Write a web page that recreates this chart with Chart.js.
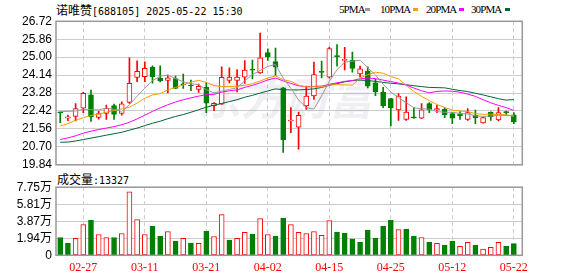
<!DOCTYPE html>
<html>
<head>
<meta charset="utf-8">
<script src="https://cdn.jsdelivr.net/npm/chart.js@4.4.1/dist/chart.umd.min.js"></script>
<style>
  body { margin: 0; background: #fff; width: 578px; height: 276px; overflow: hidden; position: relative; }
  canvas { position: absolute; left: 0; }
  #k { top: 0; }
  #v { top: 176px; }
  .t { position: absolute; white-space: nowrap; color: #000; line-height: 16px; }
  .cjk { font: 12px "Noto Sans CJK SC"; }
  .mono { font: 10px "DejaVu Sans Mono"; }
  .lg { position: absolute; top: 2px; font: 11px "Liberation Serif"; letter-spacing: -0.9px; line-height: 14px; color: #000; }
  .sw { position: absolute; top: 8px; width: 5px; height: 3px; }
</style>
</head>
<body>
<div class="t" style="left:56px;top:1px"><span class="cjk">诺唯赞</span><span class="mono">[688105] 2025-05-22 15:30</span></div>
<div class="lg" style="left:339px">5PMA</div><div class="sw" style="left:365px;background:#999"></div>
<div class="lg" style="left:380px">10PMA</div><div class="sw" style="left:413px;background:#f0a000"></div>
<div class="lg" style="left:426px">20PMA</div><div class="sw" style="left:459px;background:#ff00ff"></div>
<div class="lg" style="left:471px">30PMA</div><div class="sw" style="left:505px;background:#006633"></div>
<div class="t" style="left:57px;top:170px"><span class="cjk">成交量</span><span class="mono">:13327</span></div>
<canvas id="k" width="578" height="176"></canvas>
<canvas id="v" width="578" height="100"></canvas>
<script>
const dates = ['02-24','02-25','02-26','02-27','02-28','03-03','03-04','03-05','03-06','03-07',
  '03-10','03-11','03-12','03-13','03-14','03-17','03-18','03-19','03-20','03-21',
  '03-24','03-25','03-26','03-27','03-28','03-31','04-01','04-02','04-03','04-07',
  '04-08','04-09','04-10','04-11','04-14','04-15','04-16','04-17','04-18','04-21',
  '04-22','04-23','04-24','04-25','04-28','04-29','04-30','05-06','05-07','05-08',
  '05-09','05-12','05-13','05-14','05-15','05-16','05-19','05-20','05-21','05-22'];

const open  = [22.37,22.07,22.16,22.55,23.20,22.11,22.30,22.68,22.30,22.83,
  24.03,24.06,24.53,24.00,23.89,23.97,23.72,23.66,23.45,23.55,
  22.68,22.75,23.88,23.88,24.04,24.42,24.25,25.22,24.79,23.53,
  21.94,21.65,22.66,23.14,24.30,24.04,25.06,24.84,24.85,24.20,
  24.33,23.77,23.31,23.01,22.47,22.02,22.12,22.07,22.77,22.47,
  22.50,22.29,22.27,22.02,22.21,21.85,22.37,21.99,22.37,22.23];
const high  = [22.38,22.22,22.77,23.31,23.42,22.41,22.70,22.75,22.86,24.97,
  24.82,24.78,24.58,24.58,24.14,24.09,24.19,23.90,23.71,23.79,
  22.82,24.54,24.49,24.41,24.84,24.86,26.16,25.40,25.44,23.55,
  22.58,22.37,23.61,24.76,24.81,25.48,25.60,25.47,25.24,24.57,
  24.54,23.94,23.55,23.03,23.25,23.10,22.60,22.77,22.82,22.69,
  22.58,22.34,22.39,22.54,22.46,22.13,22.38,22.58,22.42,22.34];
const low   = [21.86,21.95,21.94,22.34,21.92,22.03,22.01,22.01,22.22,22.78,
  23.82,23.82,23.75,23.81,23.29,23.49,23.50,23.39,23.31,22.34,
  22.43,22.73,23.77,23.34,23.74,23.96,24.22,24.84,24.12,20.43,
  21.38,20.59,22.50,22.98,24.01,24.01,24.57,24.39,24.28,24.04,
  23.52,23.16,22.58,21.70,21.97,21.97,22.06,22.05,22.34,22.34,
  22.10,21.81,22.02,21.97,21.81,21.84,21.97,21.94,22.23,21.81];
const close = [22.33,22.14,22.53,23.27,22.13,22.30,22.55,22.26,22.76,23.75,
  24.32,24.46,24.06,23.86,24.01,23.50,23.67,23.62,23.60,22.79,
  22.79,24.03,24.04,24.04,24.38,24.38,24.97,25.01,24.52,21.05,
  21.98,22.21,23.14,24.17,24.27,25.41,25.03,24.90,24.46,24.44,
  23.61,23.34,22.66,22.58,23.13,22.37,22.09,22.48,22.47,22.54,
  22.23,22.07,22.20,22.34,22.10,22.10,22.15,22.34,22.34,21.90];

const ma5  = [22.40,22.40,22.42,22.50,22.48,22.47,22.56,22.50,22.40,22.72,
  23.13,23.51,23.87,24.09,24.14,23.98,23.82,23.73,23.68,23.44,
  23.29,23.37,23.45,23.54,23.86,24.17,24.36,24.56,24.65,23.99,
  23.51,22.95,22.58,22.51,23.15,23.84,24.40,24.76,24.81,24.85,
  24.49,24.15,23.70,23.33,23.06,22.82,22.57,22.53,22.51,22.39,
  22.36,22.36,22.30,22.28,22.19,22.16,22.18,22.21,22.21,22.17];
const ma10 = [21.70,21.81,21.98,22.10,22.20,22.27,22.36,22.44,22.52,22.60,
  22.80,23.03,23.19,23.25,23.43,23.55,23.67,23.80,23.89,23.79,
  23.64,23.59,23.59,23.61,23.65,23.73,23.86,24.00,24.10,23.92,
  23.84,23.66,23.57,23.58,23.57,23.67,23.68,23.67,23.66,24.00,
  24.16,24.28,24.23,24.07,23.96,23.65,23.36,23.12,22.92,22.73,
  22.59,22.46,22.42,22.39,22.29,22.26,22.27,22.25,22.24,22.18];
const ma20 = [21.05,21.13,21.23,21.36,21.45,21.53,21.60,21.67,21.76,21.88,
  22.04,22.22,22.40,22.57,22.72,22.85,22.96,23.05,23.13,23.20,
  23.22,23.32,23.39,23.43,23.55,23.65,23.77,23.91,24.00,23.86,
  23.74,23.63,23.58,23.60,23.61,23.70,23.77,23.84,23.88,23.96,
  24.00,23.97,23.90,23.83,23.76,23.66,23.52,23.39,23.29,23.36,
  23.38,23.37,23.32,23.23,23.12,22.96,22.81,22.69,22.58,22.45];
const ma30 = [20.92,20.93,20.98,21.05,21.12,21.19,21.26,21.33,21.40,21.50,
  21.60,21.72,21.83,21.93,22.05,22.16,22.25,22.36,22.48,22.60,
  22.70,22.78,22.87,22.96,23.08,23.17,23.28,23.38,23.48,23.44,
  23.43,23.43,23.45,23.48,23.55,23.65,23.73,23.82,23.88,23.90,
  23.88,23.84,23.79,23.75,23.72,23.68,23.63,23.59,23.55,23.54,
  23.53,23.46,23.40,23.35,23.27,23.19,23.10,23.01,22.94,22.97];

const volume = [20300,13900,19200,35000,39900,23700,20300,20300,24800,72200,
  40600,23700,33100,21800,27100,16200,19200,13900,13500,27500,
  21400,46300,17300,19200,26000,24100,41800,23700,21800,42100,
  35000,26000,24800,27100,22600,39500,26300,25200,18400,15000,
  28600,19600,33100,39900,29300,29700,21800,20300,15000,13500,
  11700,16200,10200,14700,11700,7100,9000,14700,10500,13327];
// 1 = close above previous close (red), 0 = below (green)
const volUp = [0,0,1,1,0,1,1,0,1,1, 1,1,0,0,1,0,1,0,1,0,
  1,1,0,1,1,0,1,1,0,0, 1,1,1,1,1,1,0,0,0,0,
  0,0,0,0,1,0,0,1,0,1, 0,0,1,1,0,1,1,1,0,0];

const dateTickIdx = [3, 11, 19, 27, 35, 43, 51, 59];
const priceTicks = [19.84, 20.70, 21.56, 22.42, 23.28, 24.14, 25.00, 25.86, 26.72];
const volTicks = [0, 19375, 38750, 58125, 77500];
const volTickLabels = ['0', '1.94万', '3.87万', '5.81万', '7.75万'];

const RED = '#ff0000', GREEN = '#008000';
const AXIS_FONT = { family: '"Liberation Sans", "Noto Sans CJK SC"', size: 12 };

const frame = {
  id: 'frame',
  afterDraw(chart) {
    const { ctx, chartArea: a } = chart;
    ctx.save();
    ctx.strokeStyle = '#999';
    ctx.lineWidth = 1.5;
    ctx.strokeRect(a.left, a.top, a.right - a.left, a.bottom - a.top);
    ctx.restore();
  }
};

const watermark = {
  id: 'watermark',
  beforeDatasetsDraw(chart) {
    const { ctx } = chart;
    ctx.save();
    ctx.font = 'bold italic 44px "Noto Sans CJK SC"';
    ctx.fillStyle = 'rgba(150,150,175,0.14)';
    ctx.textAlign = 'center';
    ctx.textBaseline = 'middle';
    ctx.fillText('东方财富', 285, 98);
    ctx.restore();
  }
};

function xScale(showLabels) {
  return {
    type: 'linear', min: -0.55, max: 60.1, offset: false, bounds: 'data',
    grid: { color: '#ccc', drawTicks: false, offset: false },
    border: { display: false, dash: [4, 3] },
    ticks: {
      display: showLabels, autoSkip: false, maxRotation: 0, padding: 5,
      color: RED, font: { family: '"Liberation Serif"', size: 12 },
      callback: v => dates[v]
    },
    afterBuildTicks: s => { s.ticks = dateTickIdx.map(v => ({ value: v })); },
    afterFit: s => { s.height = showLabels ? 20.7 : 0; }
  };
}

const pts = arr => arr.map((v, i) => ({ x: i, y: v }));
const maLine = (label, arr, color) => ({
  type: 'line', label, data: pts(arr), borderColor: color, borderWidth: 1,
  pointRadius: 0, tension: 0, order: 0
});
const candleUp = close.map((c, i) => c >= open[i]);

new Chart(document.getElementById('k'), {
  type: 'bar',
  data: {
    datasets: [
      maLine('5PMA', ma5, '#999999'),
      maLine('10PMA', ma10, '#f0a000'),
      maLine('20PMA', ma20, '#ff00ff'),
      maLine('30PMA', ma30, '#006633'),
      {
        label: 'body', data: open.map((o, i) => ({ x: i, y: [o, close[i]] })),
        backgroundColor: candleUp.map(u => u ? '#fff' : GREEN),
        borderColor: candleUp.map(u => u ? RED : GREEN),
        borderWidth: 1, borderSkipped: false, barThickness: 5, minBarLength: 1,
        grouped: false, order: 1
      },
      {
        label: 'wick', data: low.map((l, i) => ({ x: i, y: [l, high[i]] })),
        backgroundColor: candleUp.map(u => u ? RED : GREEN),
        barThickness: 1, grouped: false, order: 2
      }
    ]
  },
  options: {
    responsive: false, animation: false,
    layout: { padding: { top: 21.3, right: 55.7, bottom: 11, left: 0 } },
    plugins: { legend: { display: false }, tooltip: { enabled: false } },
    scales: {
      x: xScale(false),
      y: {
        min: 19.84, max: 26.72,
        grid: { color: '#ccc', drawTicks: false },
        border: { display: false },
        ticks: { autoSkip: false, padding: 4, color: '#000', font: AXIS_FONT, callback: v => v.toFixed(2) },
        afterBuildTicks: s => { s.ticks = priceTicks.map(v => ({ value: v })); },
        afterFit: s => { s.width = 56; }
      }
    }
  },
  plugins: [watermark, frame]
});

new Chart(document.getElementById('v'), {
  type: 'bar',
  data: {
    datasets: [{
      label: '成交量', data: pts(volume),
      backgroundColor: volUp.map(u => u ? '#fff' : GREEN),
      borderColor: volUp.map(u => u ? RED : GREEN),
      borderWidth: 1, borderSkipped: false, barThickness: 5, grouped: false
    }]
  },
  options: {
    responsive: false, animation: false,
    layout: { padding: { top: 10.7, right: 55.7, bottom: 0, left: 0 } },
    plugins: { legend: { display: false }, tooltip: { enabled: false } },
    scales: {
      x: xScale(true),
      y: {
        min: 0, max: 77500,
        grid: { color: '#ccc', drawTicks: false },
        border: { display: false },
        ticks: { autoSkip: false, padding: 4, color: '#000', font: AXIS_FONT, callback: (v, i) => volTickLabels[i] },
        afterBuildTicks: s => { s.ticks = volTicks.map(v => ({ value: v })); },
        afterFit: s => { s.width = 56; }
      }
    }
  },
  plugins: [frame]
});
</script>
</body>
</html>
